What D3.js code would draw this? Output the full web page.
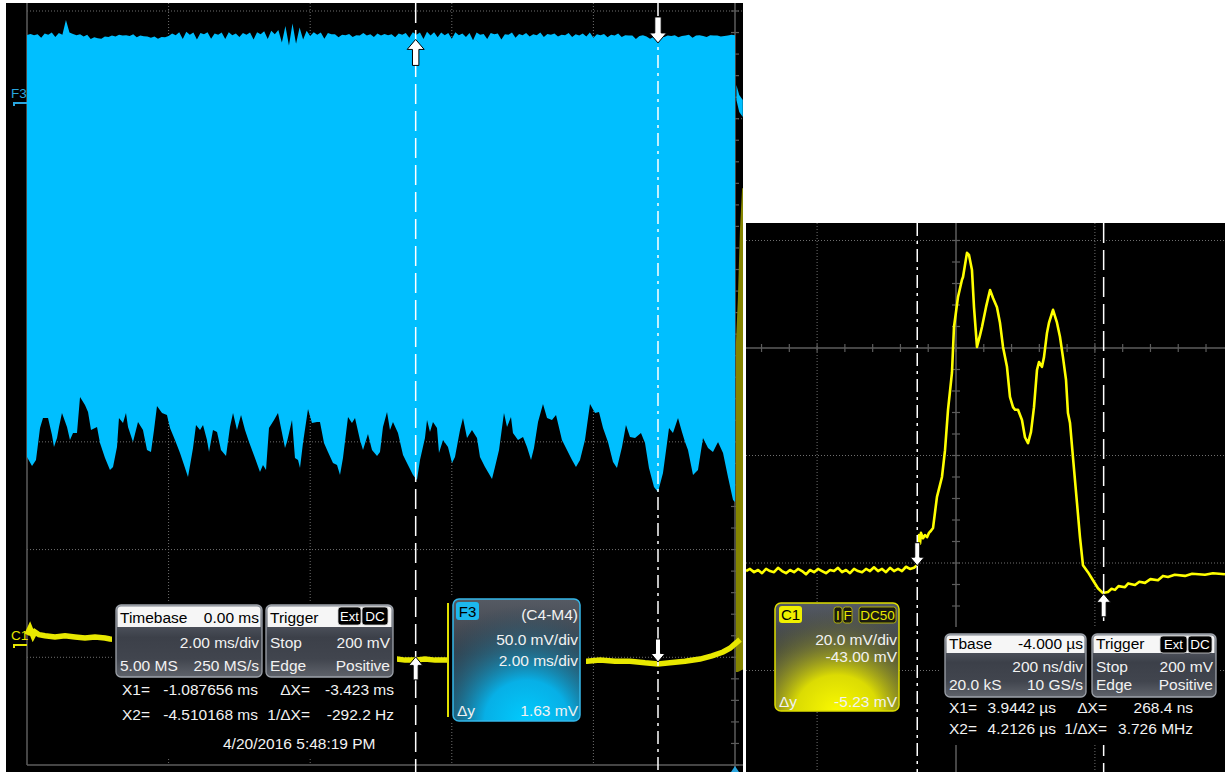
<!DOCTYPE html>
<html>
<head>
<meta charset="utf-8">
<script src="https://cdn.jsdelivr.net/npm/d3@7"></script>
<style>
  html, body { margin: 0; padding: 0; background: #fff; }
  svg { display: block; }
  text { font-family: "Liberation Sans", Arial, sans-serif; }
</style>
</head>
<body>
<svg id="scope" width="1225" height="772"></svg>
<script>
// ---------- Slow acquisition (2 ms/div): F3 = C4-M4, 50 mV/div ----------
// Upper envelope of F3, one value every 0.05 ms from -10 ms to 0 ms (mV)
const f3UpperStep = 0.05;
const f3Upper = [
  31.5, 32.0, 31.4, 31.8, 30.2, 32.2, 31.6, 32.6, 30.6, 32.4, 31.6, 38.4, 32.6, 32.0, 31.4, 31.8, 30.8, 31.6, 29.6, 30.4,
  30.0, 29.8, 30.8, 30.6, 31.2, 30.8, 31.6, 31.2, 31.4, 31.0, 31.8, 30.4, 31.2, 30.9, 30.8, 30.2, 30.8, 29.8, 30.6, 30.4,
  31.0, 32.2, 31.4, 32.8, 29.6, 33.0, 31.6, 32.6, 29.4, 32.4, 31.8, 32.8, 29.8, 32.2, 31.6, 32.6, 29.6, 32.8, 31.4, 32.2,
  30.6, 32.4, 31.6, 32.6, 29.4, 32.8, 31.8, 33.2, 29.6, 33.4, 31.8, 33.8, 28.0, 35.6, 26.6, 36.8, 27.4, 35.0, 29.4, 33.4,
  31.0, 32.8, 31.6, 32.6, 29.8, 32.4, 31.8, 31.8, 30.4, 31.6, 31.4, 32.0, 30.6, 31.4, 31.2, 32.4, 31.2, 31.8, 30.6, 32.2,
  31.2, 32.0, 31.4, 31.8, 30.4, 32.2, 31.6, 32.4, 30.2, 32.8, 31.6, 32.6, 29.6, 33.0, 31.2, 32.8, 30.4, 32.6, 31.4, 32.4,
  29.8, 32.8, 31.4, 32.2, 30.6, 32.4, 29.0, 32.6, 31.6, 32.0, 29.6, 32.4, 31.8, 32.2, 29.4, 31.8, 31.6, 32.6, 30.2, 32.0,
  31.4, 32.4, 30.8, 31.8, 31.4, 32.6, 30.6, 32.0, 31.6, 32.2, 30.8, 31.6, 31.4, 32.4, 30.6, 31.8, 31.2, 32.2, 30.8, 32.6,
  30.2, 31.8, 31.4, 32.0, 30.4, 31.6, 31.2, 32.2, 30.6, 31.4, 31.2, 31.2, 29.6, 31.0, 31.4, 30.8, 29.8, 30.6, 31.2, 31.2,
  30.6, 31.2, 31.0, 31.4, 30.4, 31.0, 31.2, 31.6, 30.2, 31.2, 31.4, 31.0, 30.6, 31.4, 31.2, 31.2, 30.8, 31.0, 31.2, 31.6, 31.4
];

// Lower envelope of F3: [time ms, mV]
const f3Lower = [
  [-10.000,-163.9],[-9.929,-168.1],[-9.873,-165.3],[-9.816,-150.5],[-9.774,-145.8],[-9.703,-145.8],[-9.647,-153.7],
  [-9.619,-159.3],[-9.576,-155.1],[-9.548,-150.0],[-9.506,-143.5],[-9.435,-150.0],[-9.393,-156.0],[-9.350,-152.8],
  [-9.294,-152.8],[-9.251,-136.1],[-9.181,-139.8],[-9.138,-143.1],[-9.096,-151.4],[-9.011,-150.0],[-8.969,-157.4],
  [-8.898,-164.4],[-8.828,-169.9],[-8.785,-168.5],[-8.729,-159.3],[-8.701,-145.8],[-8.644,-148.1],[-8.602,-143.5],
  [-8.573,-150.0],[-8.503,-156.9],[-8.432,-147.7],[-8.362,-151.4],[-8.305,-160.6],[-8.249,-161.6],[-8.206,-151.4],
  [-8.164,-140.3],[-8.093,-143.5],[-8.023,-144.4],[-7.980,-150.5],[-7.910,-156.0],[-7.839,-162.0],[-7.782,-167.6],
  [-7.726,-173.1],[-7.684,-165.3],[-7.655,-159.7],[-7.613,-149.1],[-7.556,-151.4],[-7.514,-149.1],[-7.458,-156.0],
  [-7.429,-161.6],[-7.373,-151.4],[-7.316,-152.3],[-7.260,-160.6],[-7.189,-163.4],[-7.133,-150.0],[-7.090,-143.5],
  [-7.034,-151.4],[-6.977,-144.4],[-6.921,-151.4],[-6.864,-156.9],[-6.780,-164.4],[-6.709,-170.8],[-6.667,-167.6],
  [-6.624,-169.9],[-6.582,-150.5],[-6.511,-146.8],[-6.455,-143.5],[-6.398,-152.8],[-6.356,-159.7],[-6.328,-156.9],
  [-6.257,-146.8],[-6.215,-164.4],[-6.172,-165.3],[-6.144,-169.0],[-6.102,-157.4],[-6.031,-141.7],[-5.975,-148.1],
  [-5.904,-147.7],[-5.862,-147.7],[-5.805,-157.4],[-5.749,-161.6],[-5.678,-166.7],[-5.621,-167.6],[-5.579,-172.2],
  [-5.537,-164.4],[-5.466,-145.4],[-5.410,-148.1],[-5.367,-145.8],[-5.297,-156.0],[-5.254,-160.6],[-5.184,-153.2],
  [-5.127,-160.6],[-5.056,-163.4],[-5.014,-161.6],[-4.972,-150.0],[-4.915,-143.1],[-4.873,-151.4],[-4.831,-147.7],
  [-4.760,-152.8],[-4.689,-163.0],[-4.619,-167.6],[-4.548,-172.2],[-4.492,-174.5],[-4.449,-165.3],[-4.379,-155.1],
  [-4.350,-146.8],[-4.308,-152.3],[-4.266,-147.7],[-4.209,-150.5],[-4.181,-162.0],[-4.124,-156.0],[-4.054,-159.3],
  [-3.997,-166.7],[-3.955,-163.9],[-3.884,-151.4],[-3.842,-145.8],[-3.785,-155.1],[-3.715,-151.4],[-3.644,-155.1],
  [-3.602,-163.9],[-3.531,-168.5],[-3.432,-174.1],[-3.390,-168.5],[-3.333,-160.6],[-3.263,-143.5],[-3.220,-150.0],
  [-3.164,-145.4],[-3.136,-152.8],[-3.065,-156.0],[-2.994,-154.6],[-2.938,-159.3],[-2.881,-165.3],[-2.839,-159.7],
  [-2.782,-147.7],[-2.712,-139.4],[-2.655,-145.8],[-2.585,-146.8],[-2.528,-144.4],[-2.444,-156.0],[-2.373,-160.6],
  [-2.302,-165.3],[-2.246,-168.5],[-2.189,-165.3],[-2.119,-156.0],[-2.048,-139.4],[-1.977,-143.5],[-1.921,-143.1],
  [-1.864,-150.5],[-1.794,-156.9],[-1.723,-166.2],[-1.667,-169.0],[-1.596,-159.3],[-1.540,-149.1],[-1.483,-154.6],
  [-1.412,-155.1],[-1.328,-152.8],[-1.271,-157.4],[-1.215,-169.0],[-1.144,-177.8],[-1.088,-180.1],[-1.017,-171.3],
  [-0.960,-157.4],[-0.932,-150.5],[-0.876,-152.8],[-0.805,-145.8],[-0.749,-152.3],[-0.706,-156.9],[-0.664,-160.6],
  [-0.593,-172.2],[-0.523,-169.9],[-0.452,-155.1],[-0.381,-159.7],[-0.311,-161.6],[-0.240,-156.9],[-0.169,-162.0],
  [-0.099,-173.1],[-0.028,-183.8],[0.000,-184.7]
];

// F3 just after the trigger: [time ms, upper mV, lower mV]
const f3Tail = [[0.02, 8.3, 1.4], [0.06, 3.7, -4.2], [0.11, 1.4, -6.5]];

// C1 on the slow timebase (20 mV/div): [time ms, mV]
const c1Slow = [
  [-10.000,1.9],[-9.958,3.1],[-9.915,1.7],[-9.887,2.4],[-9.830,1.9],[-9.746,1.7],[-9.605,1.5],[-9.463,1.7],
  [-9.322,1.5],[-9.181,1.3],[-9.040,1.5],[-8.898,1.3],[-8.828,1.1],
  [-4.774,-2.6],[-4.661,-2.8],[-4.520,-2.8],[-4.379,-2.6],[-4.237,-2.8],[-4.068,-2.8],
  [-2.090,-3.0],[-1.907,-2.8],[-1.695,-3.0],[-1.483,-3.0],[-1.271,-3.3],[-1.088,-3.5],[-0.918,-3.3],
  [-0.706,-3.0],[-0.494,-2.6],[-0.325,-2.0],[-0.169,-1.3],[-0.071,-0.6],[0.000,0.2],[0.071,1.0]
];
// C1 pulse burst at the trigger, drawn as a band: [time ms, top mV, bottom mV]
const c1Spike = [[0.012, 55.6, -5.0], [0.04, 63.9, -5.0], [0.07, 76.9, -4.8], [0.10, 84.6, -4.6], [0.12, 84.6, -4.6]];

// ---------- Fast acquisition (200 ns/div): C1, 20 mV/div, offset -43 mV ----------
// [time µs, mV]
const c1Fast = [
  [3.6977,1.5],[3.7034,1.9],[3.7092,1.3],[3.7150,1.7],[3.7207,1.1],[3.7265,1.9],[3.7322,1.5],[3.7380,1.3],
  [3.7437,2.1],[3.7495,1.5],[3.7553,1.1],[3.7610,1.7],[3.7668,1.3],[3.7725,1.9],[3.7783,1.5],[3.7840,0.9],
  [3.7898,1.7],[3.7956,1.3],[3.8013,1.9],[3.8071,1.5],[3.8128,1.1],[3.8186,1.7],[3.8244,1.5],[3.8301,2.1],
  [3.8359,1.3],[3.8416,1.7],[3.8474,1.1],[3.8532,1.9],[3.8589,1.5],[3.8647,1.3],[3.8704,1.9],[3.8762,1.5],
  [3.8819,2.2],[3.8877,1.5],[3.8935,1.9],[3.8992,1.3],[3.9050,2.1],[3.9107,1.5],[3.9165,1.9],[3.9222,1.5],
  [3.9280,2.3],[3.9337,1.9],[3.9395,2.1],[3.9439,2.6],
  [3.9467,8.2],[3.9482,6.6],[3.9496,8.6],[3.9525,7.6],[3.9554,8.2],[3.9583,7.8],[3.9611,8.6],[3.9640,9.0],
  [3.9669,9.5],[3.9726,15.3],[3.9798,19.0],[3.9842,24.0],[3.9885,31.5],[3.9942,38.4],[3.9971,46.9],[4.0029,52.5],
  [4.0086,55.7],[4.0101,56.2],[4.0158,60.7],[4.0187,60.3],[4.0230,57.5],[4.0259,50.6],[4.0302,43.2],[4.0346,45.4],
  [4.0374,46.9],[4.0432,50.6],[4.0490,53.8],[4.0533,52.3],[4.0590,50.6],[4.0633,47.7],[4.0677,43.2],[4.0734,39.5],
  [4.0777,33.9],[4.0821,32.0],[4.0850,31.5],[4.0893,31.5],[4.0950,29.6],[4.0993,26.4],[4.1037,25.3],[4.1080,27.4],
  [4.1123,32.0],[4.1166,38.9],[4.1195,40.4],[4.1238,39.5],[4.1267,41.3],[4.1310,45.8],[4.1339,47.7],[4.1397,50.1],
  [4.1454,47.7],[4.1497,45.1],[4.1540,41.3],[4.1584,37.1],[4.1612,30.9],[4.1641,29.1],[4.1684,22.7],[4.1742,14.2],
  [4.1785,7.8],[4.1828,2.6],[4.1900,1.3],[4.1972,-0.2],[4.2044,-1.7],[4.2116,-2.6],[4.2188,-2.4],[4.2240,-1.8],
  [4.2289,-2.0],[4.2340,-1.3],[4.2433,-1.5],[4.2480,-0.8],[4.2577,-1.1],[4.2640,-0.5],[4.2721,-0.7],[4.2800,0.0],
  [4.2908,-0.2],[4.2980,0.6],[4.3052,0.4],[4.3150,0.8],[4.3297,0.6],[4.3400,1.0],[4.3585,0.8],[4.3700,1.1],[4.3873,0.9]
];

// Cursor positions (time) and the trace levels where they cross
const slowCursors = [-1.087656, -4.510168];   // X1, X2 in ms
const slowF3Levels = [27.8, 29.43];            // mV at X1, X2
const slowC1Levels = [-3.15, -2.2];            // mV at X1, X2
const fastCursors = [3.9442, 4.2126];          // X1, X2 in µs
const fastC1Levels = [2.5, -2.73];             // mV at X1, X2

// Descriptor texts
const timebaseSlow = ["Timebase", "0.00 ms", "2.00 ms/div", "5.00 MS", "250 MS/s"];
const triggerTexts = ["Trigger", "Stop", "200 mV", "Edge", "Positive"];
const f3Texts = ["F3", "(C4-M4)", "50.0 mV/div", "2.00 ms/div", "1.63 mV"];
const c1Texts = ["C1", "20.0 mV/div", "-43.00 mV", "-5.23 mV"];
const c1Tags = ["I", "F", "DC50"];
const timebaseFast = ["Tbase", "-4.000 µs", "200 ns/div", "20.0 kS", "10 GS/s"];
const stamp = "4/20/2016 5:48:19 PM";

// ---------- Scales ----------
const xSlow = d3.scaleLinear().domain([-10, 0]).range([27, 735]);
const yF3 = d3.scaleLinear().domain([0, 50]).range([103, -5]);
const yC1s = d3.scaleLinear().domain([0, 20]).range([645, 537]);
const divSlowY = d3.scaleLinear().domain([0, 7]).range([11, 765]);
const xFast = d3.scaleLinear().domain([3.8, 4.2]).range([817.1, 1094.9]);
const yFast = d3.scaleLinear().domain([23, 63]).range([455.5, 240.5]);

// readouts use a plain hyphen for negative numbers
const loc = d3.formatLocale({ decimal: ".", thousands: ",", grouping: [3], currency: ["", ""], minus: "-" });

const svg = d3.select("#scope");
const defs = svg.append("defs");

function linGrad(id, stops) {
  const g = defs.append("linearGradient").attr("id", id).attr("x1", 0).attr("y1", 0).attr("x2", 0).attr("y2", 1);
  stops.forEach(s => g.append("stop").attr("offset", s[0]).attr("stop-color", s[1]).attr("stop-opacity", s[2] == null ? 1 : s[2]));
}
function radGrad(id, cx, cy, r, stops) {
  const g = defs.append("radialGradient").attr("id", id).attr("cx", cx).attr("cy", cy).attr("r", r);
  stops.forEach(s => g.append("stop").attr("offset", s[0]).attr("stop-color", s[1]).attr("stop-opacity", s[2]));
}
linGrad("grayBody", [[0, "#868b94"], [0.14, "#5b606a"], [0.45, "#3c4049"], [0.75, "#41454e"], [1, "#5f636b"]]);
linGrad("chanBase", [[0, "#555a63"], [0.45, "#3a3f48"], [1, "#2c3038"]]);
radGrad("f3Glow", 0.58, 1.0, 0.95, [[0, "#00ccff", 1], [0.35, "#05b6ef", 0.95], [0.65, "#177fa6", 0.5], [1, "#1a4058", 0]]);
radGrad("c1Glow", 0.5, 1.0, 0.95, [[0, "#fafa00", 1], [0.35, "#e4e400", 0.95], [0.65, "#a0a020", 0.5], [1, "#505020", 0]]);

defs.append("clipPath").attr("id", "clipSlow").append("rect").attr("x", 6).attr("y", 3).attr("width", 737).attr("height", 769);
defs.append("clipPath").attr("id", "clipFast").append("rect").attr("x", 746).attr("y", 223).attr("width", 479).attr("height", 549);

const GRID = "#6f6f6f", AXIS = "#5c5c5c";

function hLine(g, y, x1, x2, dotted) {
  g.append("line").attr("x1", x1).attr("x2", x2).attr("y1", y).attr("y2", y)
    .attr("stroke", dotted ? GRID : AXIS).attr("stroke-width", dotted ? 1 : 1.5)
    .attr("stroke-dasharray", dotted ? "1,2" : null);
}
function vLine(g, x, y1, y2, dotted) {
  g.append("line").attr("x1", x).attr("x2", x).attr("y1", y1).attr("y2", y2)
    .attr("stroke", dotted ? GRID : AXIS).attr("stroke-width", dotted ? 1 : 1.5)
    .attr("stroke-dasharray", dotted ? "1,2" : null);
}
function txt(g, x, y, s, o = {}) {
  return g.append("text").attr("x", x).attr("y", y).text(s)
    .attr("text-anchor", o.anchor || "start")
    .attr("font-size", o.size || 15.5)
    .attr("fill", o.fill || "#f2f2f2");
}
function arrow(g, x, yTip, dir, big) {
  // dir = 1: tip at bottom (pointing down); dir = -1: tip at top (pointing up)
  const L = big ? 26 : 23, hw = big ? 8.5 : 7, hh = big ? 10 : 8.5, sw = big ? 3.2 : 2.5;
  const p = [[x, yTip], [x + hw, yTip - dir * hh], [x + sw, yTip - dir * hh], [x + sw, yTip - dir * L],
             [x - sw, yTip - dir * L], [x - sw, yTip - dir * hh], [x - hw, yTip - dir * hh]];
  g.append("path").attr("d", d3.line()(p) + "Z").attr("fill", "#ffffff").attr("stroke", "#000").attr("stroke-width", 1);
}
function tag(g, x, y, w, h, s, fill, color, size) {
  g.append("rect").attr("x", x).attr("y", y).attr("width", w).attr("height", h).attr("rx", 3)
    .attr("fill", fill).attr("stroke", "#cfcfcf").attr("stroke-width", 0.8);
  txt(g, x + w / 2, y + h - 4, s, { anchor: "middle", size: size || 13.5, fill: color });
}
function infoBox(g, x, y, w, h, hdr, hdrBase, rows, texts, kind) {
  // grey descriptor with a white title strip
  g.append("rect").attr("x", x).attr("y", y).attr("width", w).attr("height", h).attr("rx", 5).attr("fill", "url(#grayBody)");
  const r = 4;
  g.append("path").attr("d",
    `M${x + 1.5},${y + hdr} V${y + r + 1} Q${x + 1.5},${y + 1.5} ${x + r + 1},${y + 1.5} H${x + w - r - 1} Q${x + w - 1.5},${y + 1.5} ${x + w - 1.5},${y + r + 1} V${y + hdr} Z`)
    .attr("fill", "#f6f6f6");
  g.append("rect").attr("x", x).attr("y", y).attr("width", w).attr("height", h).attr("rx", 5)
    .attr("fill", "none").attr("stroke", "#9da2aa").attr("stroke-width", 1.3);
  txt(g, x + 4, hdrBase, texts[0], { fill: "#000" });
  if (kind === "time") {
    txt(g, x + w - 3, hdrBase, texts[1], { anchor: "end", fill: "#000" });
    txt(g, x + w - 3, rows[0], texts[2], { anchor: "end" });
    txt(g, x + 4, rows[1], texts[3]);
    txt(g, x + w - 3, rows[1], texts[4], { anchor: "end" });
  } else {
    txt(g, x + 4, rows[0], texts[1]);
    txt(g, x + w - 3, rows[0], texts[2], { anchor: "end" });
    txt(g, x + 4, rows[1], texts[3]);
    txt(g, x + w - 3, rows[1], texts[4], { anchor: "end" });
  }
}
function chanBox(g, x, y, w, h, glowId, border) {
  g.append("rect").attr("x", x).attr("y", y).attr("width", w).attr("height", h).attr("rx", 6).attr("fill", "url(#chanBase)");
  g.append("rect").attr("x", x).attr("y", y).attr("width", w).attr("height", h).attr("rx", 6).attr("fill", `url(#${glowId})`);
  g.append("rect").attr("x", x).attr("y", y).attr("width", w).attr("height", h).attr("rx", 6)
    .attr("fill", "none").attr("stroke", border).attr("stroke-width", 1.5);
}

// ---------- Page areas ----------
svg.append("rect").attr("width", 1225).attr("height", 772).attr("fill", "#ffffff");
svg.append("rect").attr("x", 6).attr("y", 3).attr("width", 737).attr("height", 769).attr("fill", "#000");
svg.append("rect").attr("x", 746).attr("y", 223).attr("width", 479).attr("height", 549).attr("fill", "#000");

// ================= Slow panel =================
const gs = svg.append("g").attr("clip-path", "url(#clipSlow)");

// grid
d3.range(0, 7).forEach(k => hLine(gs, divSlowY(k), 27, 743, true));
hLine(gs, divSlowY(7), 27, 743, false);
[-8, -6, -4, -2].forEach(t => vLine(gs, xSlow(t), 3, divSlowY(7), true));
vLine(gs, xSlow(-10), 3, divSlowY(7), false);
vLine(gs, xSlow(0), 3, 772, false);
d3.range(0, 36).forEach(k => {
  const y = divSlowY(k / 5);
  gs.append("line").attr("x1", xSlow(0) - 4).attr("x2", xSlow(0) + 4).attr("y1", y).attr("y2", y)
    .attr("stroke", AXIS).attr("stroke-width", 1.2);
});

// F3 envelope
const lineF3 = d3.line().x(d => xSlow(d[0])).y(d => yF3(d[1]));
const upperPts = f3Upper.map((v, i) => [-10 + i * f3UpperStep, v]);
const envelope = upperPts.concat(f3Lower.slice().reverse());
gs.append("path").attr("d", lineF3(envelope) + "Z").attr("fill", "#00bfff");
const tailPts = f3Tail.map(d => [d[0], d[1]]).concat(f3Tail.map(d => [d[0], d[2]]).reverse());
gs.append("path").attr("d", lineF3(tailPts) + "Z").attr("fill", "#00bfff");

// C1 burst band and trace
const lineC1s = d3.line().x(d => xSlow(d[0])).y(d => yC1s(d[1]));
const spikePts = c1Spike.map(d => [d[0], d[1]]).concat(c1Spike.map(d => [d[0], d[2]]).reverse());
gs.append("path").attr("d", lineC1s(spikePts) + "Z").attr("fill", "#858500");
gs.append("path").attr("d", lineC1s(c1Slow))
  .attr("fill", "none").attr("stroke", "#e8e800").attr("stroke-width", 5.5);

// cursors
const dashX1 = "13,5,3,5", dashX2 = "20,7";
slowCursors.forEach((t, i) => {
  gs.append("line").attr("x1", xSlow(t)).attr("x2", xSlow(t)).attr("y1", 3).attr("y2", 772)
    .attr("stroke", "#fff").attr("stroke-width", 1.5).attr("stroke-dasharray", i === 0 ? dashX1 : dashX2);
});
arrow(gs, xSlow(slowCursors[0]), yF3(slowF3Levels[0]), 1, true);
arrow(gs, xSlow(slowCursors[1]), yF3(slowF3Levels[1]), -1, true);
arrow(gs, xSlow(slowCursors[0]), yC1s(slowC1Levels[0]), 1, false);
arrow(gs, xSlow(slowCursors[1]), yC1s(slowC1Levels[1]), -1, false);

// trace labels and level markers
txt(gs, 11, 98, "F3", { size: 13.5, fill: "#2aa6df" });
gs.append("path").attr("d", `M14,${yF3(0) + 3} V${yF3(0)} H27`).attr("fill", "none").attr("stroke", "#2aa6df").attr("stroke-width", 2);
txt(gs, 11, 640, "C1", { size: 13.5, fill: "#e6e600" });
gs.append("path").attr("d", `M14,${yC1s(0) + 3} V${yC1s(0)} H27`).attr("fill", "none").attr("stroke", "#e6e600").attr("stroke-width", 2);
gs.append("path").attr("d", "M731,772 L735,766 L739,772 Z").attr("fill", "#2aa6df");

// readout area
gs.append("rect").attr("x", 112).attr("y", 601).attr("width", 285).attr("height", 157).attr("fill", "#000");
infoBox(gs, 116, 605, 146, 72, 22, 623, [648, 671], timebaseSlow, "time");
infoBox(gs, 266, 605, 127, 72, 22, 623, [648, 671], triggerTexts, "trig");
tag(gs, 338, 607, 23, 18, "Ext", "#000", "#fff", 13);
tag(gs, 362, 607, 26, 18, "DC", "#000", "#fff", 13.5);

const dXs = slowCursors[1] - slowCursors[0];
const rowA = 695, rowB = 720;
txt(gs, 122, rowA, "X1=");
txt(gs, 258, rowA, loc.format(".6f")(slowCursors[0]) + " ms", { anchor: "end" });
txt(gs, 310, rowA, "ΔX=", { anchor: "end" });
txt(gs, 394, rowA, loc.format(".3f")(dXs) + " ms", { anchor: "end" });
txt(gs, 122, rowB, "X2=");
txt(gs, 258, rowB, loc.format(".6f")(slowCursors[1]) + " ms", { anchor: "end" });
txt(gs, 310, rowB, "1/ΔX=", { anchor: "end" });
txt(gs, 394, rowB, loc.format(".1f")(1000 / dXs) + " Hz", { anchor: "end" });
txt(gs, 223, 749, stamp);

// F3 descriptor
gs.append("rect").attr("x", 449).attr("y", 597).attr("width", 137).attr("height", 126).attr("fill", "#000");
gs.append("line").attr("x1", 448).attr("x2", 448).attr("y1", 603).attr("y2", 717).attr("stroke", "#e0e000").attr("stroke-width", 2);
chanBox(gs, 453, 599, 127, 122, "f3Glow", "#35b8ea");
gs.append("rect").attr("x", 456).attr("y", 602).attr("width", 23).attr("height", 18).attr("rx", 3).attr("fill", "#1db8ee");
txt(gs, 467.5, 617, f3Texts[0], { anchor: "middle", size: 15, fill: "#000" });
txt(gs, 578, 620, f3Texts[1], { anchor: "end" });
txt(gs, 578, 645, f3Texts[2], { anchor: "end" });
txt(gs, 578, 666, f3Texts[3], { anchor: "end" });
txt(gs, 457, 716, "Δy");
txt(gs, 578, 716, f3Texts[4], { anchor: "end" });

// ================= Fast panel =================
const gf = svg.append("g").attr("clip-path", "url(#clipFast)");
[63, 23, 3, -17].forEach(v => hLine(gf, yFast(v), 746, 1225, true));
[3.8, 4.2].forEach(t => vLine(gf, xFast(t), 223, 772, true));
hLine(gf, yFast(43), 746, 1225, false);
vLine(gf, xFast(4.0), 223, 772, false);
d3.range(-7, 12).forEach(k => {
  const x = xFast(4.0 + k * 0.04);
  gf.append("line").attr("x1", x).attr("x2", x).attr("y1", yFast(43) - 4).attr("y2", yFast(43) + 4).attr("stroke", AXIS).attr("stroke-width", 1.2);
});
d3.range(-12, 24).forEach(k => {
  const y = yFast(43 + k * 4);
  gf.append("line").attr("x1", xFast(4.0) - 4).attr("x2", xFast(4.0) + 4).attr("y1", y).attr("y2", y).attr("stroke", AXIS).attr("stroke-width", 1.2);
});

gf.append("path").attr("d", d3.line().x(d => xFast(d[0])).y(d => yFast(d[1]))(c1Fast))
  .attr("fill", "none").attr("stroke", "#ffff00").attr("stroke-width", 2.6).attr("stroke-linejoin", "round");

fastCursors.forEach((t, i) => {
  gf.append("line").attr("x1", xFast(t)).attr("x2", xFast(t)).attr("y1", 223).attr("y2", 772)
    .attr("stroke", "#fff").attr("stroke-width", 1.5).attr("stroke-dasharray", i === 0 ? dashX1 : dashX2);
});
arrow(gf, xFast(fastCursors[0]), yFast(fastC1Levels[0]), 1, false);
arrow(gf, xFast(fastCursors[1]), yFast(fastC1Levels[1]), -1, false);

// C1 descriptor
chanBox(gf, 775, 603, 124, 108, "c1Glow", "#dede00");
gf.append("rect").attr("x", 779).attr("y", 606).attr("width", 23).attr("height", 17).attr("rx", 3).attr("fill", "#f0f000");
txt(gf, 790.5, 620, c1Texts[0], { anchor: "middle", size: 15, fill: "#000" });
[[834, 8], [843, 9], [859, 37]].forEach((p, i) => {
  gf.append("rect").attr("x", p[0]).attr("y", 607).attr("width", p[1]).attr("height", 16).attr("rx", 2.5)
    .attr("fill", "#1a1a10").attr("stroke", "#c8c800").attr("stroke-width", 0.8);
  txt(gf, p[0] + p[1] / 2, 620, c1Tags[i], { anchor: "middle", size: 13.5, fill: "#e8e800" });
});
txt(gf, 897, 645, c1Texts[1], { anchor: "end" });
txt(gf, 897, 662, c1Texts[2], { anchor: "end" });
txt(gf, 779, 707, "Δy");
txt(gf, 897, 707, c1Texts[3], { anchor: "end" });

// timebase / trigger / cursor readouts
gf.append("rect").attr("x", 940).attr("y", 627).attr("width", 280).attr("height", 118).attr("fill", "#000");
infoBox(gf, 945, 634, 141, 63, 19, 649, [672, 690], timebaseFast, "time");
infoBox(gf, 1092, 634, 124, 63, 19, 649, [672, 690], triggerTexts, "trig");
tag(gf, 1160, 636, 27, 17, "Ext", "#000", "#fff", 13);
tag(gf, 1188, 636, 24, 17, "DC", "#000", "#fff", 13.5);

const dXf = fastCursors[1] - fastCursors[0];
const rowC = 713, rowD = 734;
txt(gf, 949, rowC, "X1=");
txt(gf, 1056, rowC, loc.format(".4f")(fastCursors[0]) + " µs", { anchor: "end" });
txt(gf, 1107, rowC, "ΔX=", { anchor: "end" });
txt(gf, 1193, rowC, loc.format(".1f")(dXf * 1000) + " ns", { anchor: "end" });
txt(gf, 949, rowD, "X2=");
txt(gf, 1056, rowD, loc.format(".4f")(fastCursors[1]) + " µs", { anchor: "end" });
txt(gf, 1107, rowD, "1/ΔX=", { anchor: "end" });
txt(gf, 1193, rowD, loc.format(".3f")(1 / dXf) + " MHz", { anchor: "end" });
</script>
</body>
</html>
